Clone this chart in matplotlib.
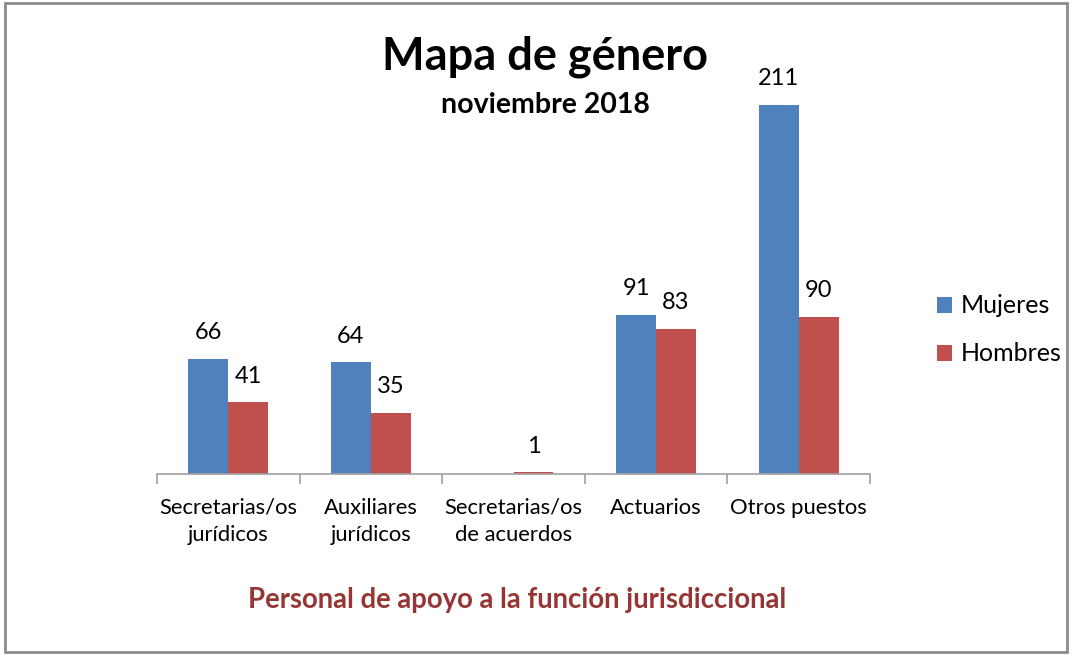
import matplotlib
matplotlib.use("Agg")
import matplotlib.pyplot as plt
from matplotlib.patches import Rectangle
import numpy as np

categories = ["Secretarias/os\njurídicos", "Auxiliares\njurídicos", "Secretarias/os\nde acuerdos", "Actuarios", "Otros puestos"]
mujeres = [66, 64, 0, 91, 211]
hombres = [41, 35, 1, 83, 90]
series_names = ["Mujeres", "Hombres"]
colors = ["#4F81BD", "#C0504D"]

FONT = ["Lato", "DejaVu Sans"]
plt.rcParams["font.family"] = FONT

W, H = 1073, 655
fig = plt.figure(figsize=(W / 100, H / 100), dpi=100)

# outer border
fig.patches.append(Rectangle((5 / W, 3 / H), (1067 - 5) / W, (652 - 3) / H, transform=fig.transFigure,
                             fill=False, edgecolor="#8c8c8c", linewidth=2))

ax = fig.add_axes([157 / W, (H - 474) / H, (870 - 157) / W, 420 / H])
x = np.arange(len(categories))
bw = 0.28
ax.bar(x - bw / 2, mujeres, bw, color=colors[0], label=series_names[0])
ax.bar(x + bw / 2, hombres, bw, color=colors[1], label=series_names[1])
ax.set_xlim(-0.5, len(categories) - 0.5)
ax.set_ylim(0, 240)

for i, v in enumerate(mujeres):
    if v > 0:
        ax.annotate(str(v), (x[i] - bw / 2, v), xytext=(0, 11), textcoords="offset points",
                    ha="center", va="bottom", fontsize=17)
for i, v in enumerate(hombres):
    ax.annotate(str(v), (x[i] + bw / 2, v), xytext=(0, 11), textcoords="offset points",
                ha="center", va="bottom", fontsize=17)

for s in ["top", "right", "left"]:
    ax.spines[s].set_visible(False)
ax.spines["bottom"].set_color("#a0a0a0")
ax.spines["bottom"].set_linewidth(1.2)
ax.set_yticks([])
ax.set_xticks(np.arange(-0.5, len(categories), 1.0))
ax.set_xticklabels([])
ax.set_xticks(x, minor=True)
ax.set_xticklabels(categories, minor=True, fontsize=15.8, linespacing=1.45)
ax.tick_params(axis="x", which="major", length=7, color="#a0a0a0", width=1.2)
ax.tick_params(axis="x", which="minor", length=0, pad=17)

fig.text(545 / W, 1 - 57 / H, "Mapa de género", ha="center", va="center", fontsize=32.5, fontweight="bold")
fig.text(545 / W, 1 - 105 / H, "noviembre 2018", ha="center", va="center", fontsize=20.5, fontweight="bold")
fig.text(517 / W, 1 - 600 / H, "Personal de apoyo a la función jurisdiccional", ha="center", va="center",
         fontsize=19.8, fontweight="bold", color="#963634")

leg = fig.legend(loc="upper left", bbox_to_anchor=(914 / W, 1 - 272 / H), frameon=False, fontsize=18,
                 handlelength=0.6, handleheight=0.6, handletextpad=0.35, labelspacing=1.0)

fig.savefig("out.png", dpi=100)
